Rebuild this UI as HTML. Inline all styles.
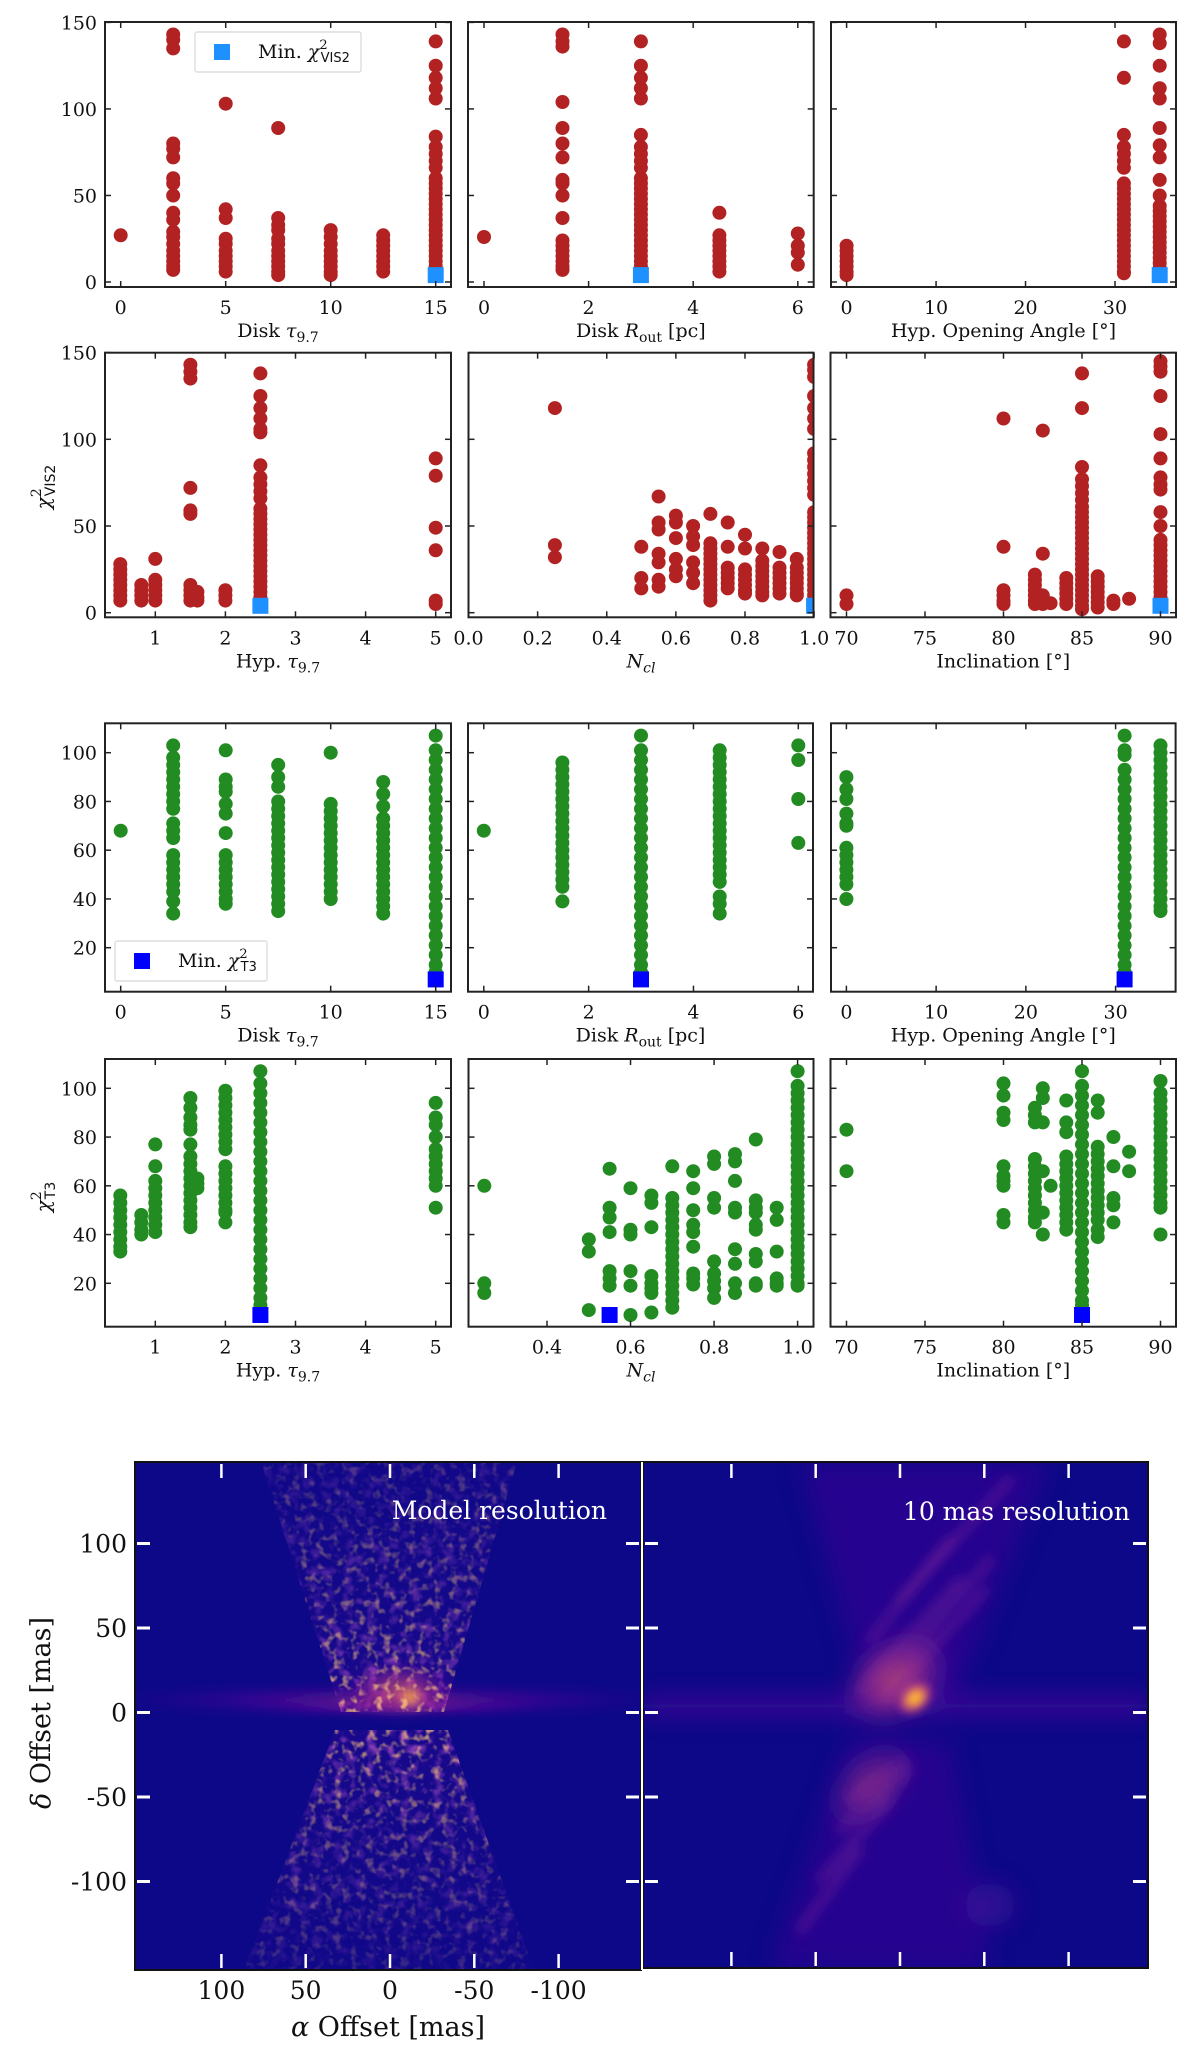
<!DOCTYPE html>
<html><head><meta charset="utf-8"><style>
html,body{margin:0;padding:0;background:#fff;}
svg{display:block;}
text{font-family:"DejaVu Serif","Liberation Serif",serif;fill:#111;}
</style></head><body>
<svg id="fig" width="1200" height="2049" viewBox="0 0 1200 2049" xmlns="http://www.w3.org/2000/svg">
<defs>
  <filter id="speck" filterUnits="userSpaceOnUse" x="135" y="1462" width="506" height="508">
    <feTurbulence type="fractalNoise" baseFrequency="0.09" numOctaves="2" seed="4" result="n"/>
    <feColorMatrix in="n" type="matrix" values="0 0 0 0 0.55  0 0 0 0 0.1  0 0 0 0 0.6  0 0 0 3.0 -1.45"/>
  </filter>
  <filter id="speckB" filterUnits="userSpaceOnUse" x="135" y="1462" width="506" height="508">
    <feTurbulence type="fractalNoise" baseFrequency="0.12" numOctaves="2" seed="9" result="n"/>
    <feColorMatrix in="n" type="matrix" values="0 0 0 0 0.98  0 0 0 0 0.55  0 0 0 0 0.2  0 0 0 4 -2.1"/>
  </filter>
  <filter id="blurBig" filterUnits="userSpaceOnUse" x="560" y="1380" width="680" height="680"><feGaussianBlur stdDeviation="12"/></filter>
  <filter id="blurMid" filterUnits="userSpaceOnUse" x="560" y="1380" width="680" height="680"><feGaussianBlur stdDeviation="6"/></filter>
  <filter id="blurL" filterUnits="userSpaceOnUse" x="60" y="1380" width="660" height="680"><feGaussianBlur stdDeviation="5"/></filter>
  <filter id="blurS" filterUnits="userSpaceOnUse" x="560" y="1380" width="680" height="680"><feGaussianBlur stdDeviation="4"/></filter>
  <linearGradient id="coneUp" x1="0" y1="0" x2="0" y2="1">
    <stop offset="0" stop-color="#fff" stop-opacity="0.25"/>
    <stop offset="0.6" stop-color="#fff" stop-opacity="0.55"/>
    <stop offset="1" stop-color="#fff" stop-opacity="1"/>
  </linearGradient>
  <linearGradient id="coneDn" x1="0" y1="0" x2="0" y2="1">
    <stop offset="0" stop-color="#fff" stop-opacity="0.9"/>
    <stop offset="0.4" stop-color="#fff" stop-opacity="0.5"/>
    <stop offset="1" stop-color="#fff" stop-opacity="0.2"/>
  </linearGradient>
  <mask id="coneMask" maskUnits="userSpaceOnUse" x="135" y="1462" width="506" height="508">
    <polygon points="261,1462 517,1462 444,1712 341,1712" fill="url(#coneUp)"/>
    <polygon points="335,1730 448,1730 534,1970 244,1970" fill="url(#coneDn)"/>
  </mask>
  <radialGradient id="hot" cx="0.5" cy="0.5" r="0.5">
    <stop offset="0" stop-color="#fbd524"/>
    <stop offset="0.35" stop-color="#f89540"/>
    <stop offset="0.7" stop-color="#cc4778" stop-opacity="0.6"/>
    <stop offset="1" stop-color="#7e03a8" stop-opacity="0"/>
  </radialGradient>
  <radialGradient id="glow" cx="0.5" cy="0.5" r="0.5">
    <stop offset="0" stop-color="#e16462" stop-opacity="0.9"/>
    <stop offset="0.6" stop-color="#b12a90" stop-opacity="0.5"/>
    <stop offset="1" stop-color="#6a00a8" stop-opacity="0"/>
  </radialGradient>
  <radialGradient id="midG" cx="0.5" cy="0.5" r="0.5">
    <stop offset="0" stop-color="#cc4778" stop-opacity="0.9"/>
    <stop offset="0.5" stop-color="#7e03a8" stop-opacity="0.6"/>
    <stop offset="1" stop-color="#3a0a98" stop-opacity="0"/>
  </radialGradient>
  <clipPath id="clipL"><rect x="135" y="1462" width="506" height="508"/></clipPath>
  <clipPath id="clipR"><rect x="643" y="1462" width="505" height="506"/></clipPath>
</defs>
<g id="charts"></g>
<g id="images"></g>
</svg>
<script>
// ===== Data =====
const R1P1_X=[0,2.5,5,7.5,10,12.5,15];
const R1P1_Y=[[27],[143,140,135,80,77,72,60,57,50,40,36,29,26,22,18,15,12,9,7],[103,42,37,25,22,18,15,12,9,6],[89,37,33,30,25,22,18,15,12,9,6,4],[30,26,22,18,15,12,9,6,4],[27,24,21,18,15,12,9,6],[139,125,118,112,106,84,78,74,70,66,60,57,54,51,48,45,42,39,36,33,30,27,24,21,18,15,12,9,6]];
const R1P1_MIN=[15,4];
const R1P2_X=[0,1.5,3,4.5,6];
const R1P2_Y=[[26],[143,139,136,104,89,80,72,59,57,50,37,24,21,18,15,12,9,7],[139,125,118,112,106,85,78,74,70,66,60,57,54,51,48,45,42,39,36,33,30,27,24,21,18,15,12,9,6],[40,27,24,21,18,15,12,9,6],[28,21,17,10]];
const R1P2_MIN=[3,4];
const R1P3_X=[0,31,35];
const R1P3_Y=[[21,18,15,12,9,6,4],[139,118,85,78,74,70,66,57,54,51,48,45,42,39,36,33,30,27,24,21,18,15,12,9,6,5],[143,138,125,112,106,89,79,72,59,50,44,41,38,35,32,29,26,23,20,17,14,11,8,5]];
const R1P3_MIN=[35,4];

const R2P1_X=[0.5,0.8,1,1.5,1.6,2,2.5,5];
const R2P1_Y=[[28,25,22,19,16,13,10,7],[16,13,10,7],[31,19,16,13,10,7],[143,139,135,72,59,57,16,13,10,7],[12,9,7],[13,10,7],[138,125,118,112,106,104,85,78,74,70,66,60,57,54,51,48,45,42,39,36,33,30,27,24,21,18,15,12,9],[89,79,49,36,7,5]];
const R2P1_MIN=[2.5,4];
const R2P2_X=[0.25,0.5,0.55,0.6,0.65,0.7,0.75,0.8,0.85,0.9,0.95,1.0];
const R2P2_Y=[[118,39,32],[38,20,14],[67,52,48,34,29,19,15],[56,52,43,31,25,21],[50,44,39,29,23,17],[57,40,37,34,31,28,25,22,19,16,13,10,7],[52,38,26,23,20,17,14],[45,37,25,22,19,16,13,11],[37,30,27,24,21,18,15,12,10],[35,26,23,20,17,14,11],[31,26,23,20,17,14,11,10],[143,140,136,125,118,112,106,92,88,84,80,76,72,68,58,55,52,49,46,43,40,37,34,31,28,25,22,19,16,13,10,7,5]];
const R2P2_MIN=[1.0,4];
const R2P3_X=[70,80,82,82.5,83,84,85,86,87,88,90];
const R2P3_Y=[[10,5],[112,38,13,10,7,5],[22,19,16,13,10,7,5],[105,34,10,7,5],[5.5],[20,17,14,11,8,5],[138,118,84,77,73,69,65,61,58,55,52,49,46,43,40,37,34,31,28,25,22,19,16,13,10,7,4,2],[21,18,15,12,9,6,3],[7,5],[8],[145,142,139,125,103,89,78,74,71,58,50,42,39,36,33,30,27,24,21,18,15,12,9,6]];
const R2P3_MIN=[90,4];

const R3P1_X=[0,2.5,5,7.5,10,12.5,15];
const R3P1_Y=[[68],[103,98,95,92,89,86,83,80,77,71,68,65,58,55,52,49,46,43,39,34],[101,89,86,84,79,75,67,58,55,52,49,46,43,40,38],[95,90,86,80,77,74,71,68,65,62,59,56,53,50,47,44,41,38,35],[100,79,76,73,70,67,64,61,58,55,52,49,46,43,40],[88,83,78,73,70,67,64,61,58,55,52,49,46,43,40,37,34],[107,101,97,93,89,85,81,77,73,69,65,61,57,53,49,45,41,37,33,29,25,21,17,13,10]];
const R3P1_MIN=[15,7];
const R3P2_X=[0,1.5,3,4.5,6];
const R3P2_Y=[[68],[96,93,90,87,84,81,78,75,72,69,66,63,60,57,54,51,48,45,39],[107,101,97,93,89,85,81,77,73,69,65,61,57,53,49,45,41,37,33,29,25,21,17,13,10],[101,98,95,92,89,86,83,80,77,74,71,68,65,62,59,56,53,50,47,41,38,34],[103,97,81,63]];
const R3P2_MIN=[3,7];
const R3P3_X=[0,31,35];
const R3P3_Y=[[90,85,81,75,71,70,61,58,55,52,49,46,40],[107,101,99,93,89,85,81,77,73,69,65,61,57,53,49,45,41,37,33,29,25,21,17,13,10],[103,100,97,94,91,88,85,82,79,76,73,70,67,64,61,58,55,52,49,46,43,40,37,35]];
const R3P3_MIN=[31,7];

const R4P1_X=[0.5,0.8,1,1.5,1.6,2,2.5,5];
const R4P1_Y=[[56,53,50,47,44,41,38,35,33],[48,45,42,40],[77,68,62,59,56,53,50,47,44,41],[96,92,88,85,83,77,72,69,66,63,60,57,54,51,48,45,43],[63,61,59],[99,96,93,90,87,84,81,78,75,68,65,62,59,56,53,50,49,45],[107,102,98,94,90,86,82,78,74,70,66,62,58,54,50,46,42,38,34,30,26,22,18,14,11],[94,88,85,80,75,72,69,66,63,60,51]];
const R4P1_MIN=[2.5,7];
const R4P2_X=[0.25,0.5,0.55,0.6,0.65,0.7,0.75,0.8,0.85,0.9,0.95,1.0];
const R4P2_Y=[[60,20,16],[38,33,9],[67,51,47,41,25,22,19],[59,42,40,25,19,7],[56,53,43,23,20,18,16,8],[68,55,52,49,46,43,40,37,34,31,28,25,22,19,16,13,10],[66,59,50,44,41,35,24,22,19.5],[72,69,55,51,29,24,21,18,14],[73,70,62,51,49,34,28,20,16],[79,54,51,49,44,42,32,29,20,19],[51,46,33,22,20,19],[107,101,98,95,92,89,86,83,80,77,74,71,68,65,62,59,56,53,50,47,44,41,38,35,32,29,26,23,20,19]];
const R4P2_MIN=[0.55,7];
const R4P3_X=[70,80,82,82.5,83,84,85,86,87,88,90];
const R4P3_Y=[[83,66],[102,97,90,87,68,64,62,60,48,45],[92,89,86,71,68,65,62,59,56,53,50,47,45],[100,96,86,66,49,40],[60],[95,86,82,72,69,66,63,60,57,54,51,48,45,42],[107,101,97,93,89,85,81,77,73,69,65,61,57,53,49,45,41,37,33,29,25,21,17,13,11,8],[95,90,76,73,70,67,64,61,58,55,52,49,46,42,39],[80,68,55,52,45],[74,66],[103,98,95,92,89,86,83,80,77,74,71,68,65,62,59,56,53,51,40]];
const R4P3_MIN=[85,7];

const TICKS_R1Y=[0,50,100,150];
const TICKS_R3Y=[20,40,60,80,100];
const TICKS_TAU=[0,5,10,15], TICKS_ROUT=[0,2,4,6], TICKS_ANG=[0,10,20,30];
const TICKS_HTAU=[1,2,3,4,5], TICKS_INC=[70,75,80,85,90];
const TICKS_NCL=[0,0.2,0.4,0.6,0.8,1.0], TICKS_NCL4=[0.4,0.6,0.8,1.0];
const IMG_TICKS=[100,50,0,-50,-100];

// ===== Drawing =====
const NS="http://www.w3.org/2000/svg";
const root=document.getElementById('charts');
function el(tag,attrs,parent){const e=document.createElementNS(NS,tag);for(const k in attrs)e.setAttribute(k,attrs[k]);(parent||root).appendChild(e);return e;}
let clipId=0;
function lin(d0,p0,d1,p1){return v=>p0+(v-d0)*(p1-p0)/(d1-d0);}

function panel(o){
  const g=el('g',{});
  
  
  const sx=lin(o.xa[0],o.xa[1],o.xb[0],o.xb[1]);
  const sy=lin(o.ya[0],o.ya[1],o.yb[0],o.yb[1]);
  const cid='cp'+(clipId++);
  const cp=el('clipPath',{id:cid},g);
  el('rect',{x:o.L,y:o.T,width:o.R-o.L,height:o.B-o.T},cp);
  const pts=el('g',{'clip-path':'url(#'+cid+')'},g);
  
  
  o.cats.forEach((c,i)=>{
    o.vals[i].forEach(v=>{
      const d=el('circle',{cx:sx(c).toFixed(1),cy:sy(v).toFixed(1),r:7,fill:o.color},pts);
      
      
    });
  });
  const m=el('rect',{x:(sx(o.min[0])-8).toFixed(1),y:(sy(o.min[1])-8).toFixed(1),width:16,height:16,fill:o.minColor},pts);
  
  
  const f=el('rect',{x:o.L,y:o.T,width:o.R-o.L,height:o.B-o.T,fill:'none',stroke:'#222','stroke-width':2},g);
  
  
  o.xt.forEach(t=>{
    const x=sx(t);
    el('line',{x1:x,y1:o.B,x2:x,y2:o.B-6,stroke:'#222','stroke-width':1.5},g);
    el('line',{x1:x,y1:o.T,x2:x,y2:o.T+6,stroke:'#222','stroke-width':1.5},g);
    const tx=el('text',{x:x,y:o.B+27,'text-anchor':'middle','font-size':19},g);
    tx.textContent=o.xfmt?o.xfmt(t):String(t);
    
    
  });
  o.yt.forEach(t=>{
    const y=sy(t);
    el('line',{x1:o.L,y1:y,x2:o.L+6,y2:y,stroke:'#222','stroke-width':1.5},g);
    el('line',{x1:o.R,y1:y,x2:o.R-6,y2:y,stroke:'#222','stroke-width':1.5},g);
    if(o.ylabels){
      const ty=el('text',{x:o.L-8,y:y+7,'text-anchor':'end','font-size':19},g);
      ty.textContent=String(t);
      
      
    }
  });
  const xl=el('text',{x:(o.L+o.R)/2,y:o.B+50,'text-anchor':'middle','font-size':19},g);
  xl.innerHTML=o.xlabel;
  
  
  return g;
}
const fmt1=v=>v.toFixed(1);
const L_TAU='Disk <tspan font-style="italic">τ</tspan><tspan font-size="14" dy="5">9.7</tspan>';
const L_HTAU='Hyp. <tspan font-style="italic">τ</tspan><tspan font-size="14" dy="5">9.7</tspan>';
const L_ROUT='Disk <tspan font-style="italic">R</tspan><tspan font-size="14" dy="5">out</tspan><tspan dy="-5"> [pc]</tspan>';
const L_ANG='Hyp. Opening Angle [°]';
const L_NCL='<tspan font-style="italic">N</tspan><tspan font-size="14" dy="5" font-style="italic">cl</tspan>';
const L_INC='Inclination [°]';

const RED='#b22222', GRN='#228b22';
const r1={T:22,B:287,ya:[0,282],yb:[150,22.4]};
panel(Object.assign({name:'vis2-disk-tau-panel',L:105,R:451,xa:[0,120.7],xb:[15,435.7],cats:R1P1_X,vals:R1P1_Y,min:R1P1_MIN,color:RED,minColor:'#1e90ff',xt:TICKS_TAU,yt:TICKS_R1Y,ylabels:true,xlabel:L_TAU},r1));
panel(Object.assign({name:'vis2-disk-rout-panel',L:468,R:813.7,xa:[0,484],xb:[6,797.8],cats:R1P2_X,vals:R1P2_Y,min:R1P2_MIN,color:RED,minColor:'#1e90ff',xt:TICKS_ROUT,yt:TICKS_R1Y,xlabel:L_ROUT},r1));
panel(Object.assign({name:'vis2-opening-angle-panel',L:831,R:1176,xa:[0,846.6],xb:[30,1115],cats:R1P3_X,vals:R1P3_Y,min:R1P3_MIN,color:RED,minColor:'#1e90ff',xt:TICKS_ANG,yt:TICKS_R1Y,xlabel:L_ANG},r1));
const r2={T:352.7,B:617.3,ya:[0,612.7],yb:[100,439.3]};
panel(Object.assign({name:'vis2-hyp-tau-panel',L:105,R:451,xa:[1,155.3],xb:[5,435.7],cats:R2P1_X,vals:R2P1_Y,min:R2P1_MIN,color:RED,minColor:'#1e90ff',xt:TICKS_HTAU,yt:TICKS_R1Y,ylabels:true,xlabel:L_HTAU},r2));
panel(Object.assign({name:'vis2-ncl-panel',L:468.5,R:813.5,xa:[0,468.5],xb:[1,814.1],cats:R2P2_X,vals:R2P2_Y,min:R2P2_MIN,color:RED,minColor:'#1e90ff',xt:TICKS_NCL,xfmt:fmt1,yt:TICKS_R1Y,xlabel:L_NCL},r2));
panel(Object.assign({name:'vis2-inclination-panel',L:830.5,R:1176,xa:[70,846.5],xb:[90,1160.5],cats:R2P3_X,vals:R2P3_Y,min:R2P3_MIN,color:RED,minColor:'#1e90ff',xt:TICKS_INC,yt:TICKS_R1Y,xlabel:L_INC},r2));
const r3={T:723.3,B:991.7,ya:[20,947.7],yb:[100,752.7]};
panel(Object.assign({name:'t3-disk-tau-panel',L:105,R:451,xa:[0,120.7],xb:[15,435.7],cats:R3P1_X,vals:R3P1_Y,min:R3P1_MIN,color:GRN,minColor:'#0000ff',xt:TICKS_TAU,yt:TICKS_R3Y,ylabels:true,xlabel:L_TAU},r3));
panel(Object.assign({name:'t3-disk-rout-panel',L:468,R:813,xa:[0,483.8],xb:[6,798.3],cats:R3P2_X,vals:R3P2_Y,min:R3P2_MIN,color:GRN,minColor:'#0000ff',xt:TICKS_ROUT,yt:TICKS_R3Y,xlabel:L_ROUT},r3));
panel(Object.assign({name:'t3-opening-angle-panel',L:831,R:1175.6,xa:[0,846.4],xb:[30,1115.6],cats:R3P3_X,vals:R3P3_Y,min:R3P3_MIN,color:GRN,minColor:'#0000ff',xt:TICKS_ANG,yt:TICKS_R3Y,xlabel:L_ANG},r3));
const r4={T:1059,B:1326.7,ya:[20,1283.3],yb:[100,1088.3]};
panel(Object.assign({name:'t3-hyp-tau-panel',L:105,R:451,xa:[1,155.3],xb:[5,435.7],cats:R4P1_X,vals:R4P1_Y,min:R4P1_MIN,color:GRN,minColor:'#0000ff',xt:TICKS_HTAU,yt:TICKS_R3Y,ylabels:true,xlabel:L_HTAU},r4));
panel(Object.assign({name:'t3-ncl-panel',L:468.5,R:813.5,xa:[0.4,547],xb:[1,797.6],cats:R4P2_X,vals:R4P2_Y,min:R4P2_MIN,color:GRN,minColor:'#0000ff',xt:TICKS_NCL4,xfmt:fmt1,yt:TICKS_R3Y,xlabel:L_NCL},r4));
panel(Object.assign({name:'t3-inclination-panel',L:830.5,R:1176,xa:[70,846.5],xb:[90,1160.5],cats:R4P3_X,vals:R4P3_Y,min:R4P3_MIN,color:GRN,minColor:'#0000ff',xt:TICKS_INC,yt:TICKS_R3Y,xlabel:L_INC},r4));

function ytitle(y,sub,name){
  const t=el('text',{x:0,y:0,'text-anchor':'middle','font-size':20,transform:'translate(50,'+y+') rotate(-90)'});
  t.innerHTML='<tspan font-style="italic">χ</tspan><tspan font-size="14" dy="-9">2</tspan><tspan font-size="14" dy="14" dx="-8" font-family="DejaVu Sans">'+sub+'</tspan>';
  
  
}
ytitle(487,'VIS2','y-axis-title-vis2');
ytitle(1197,'T3','y-axis-title-t3');

function legend(x,y,w,h,color,sub,name){
  const g=el('g',{});
  
  
  el('rect',{x:x,y:y,width:w,height:h,fill:'#fff',stroke:'#d8d8d8','stroke-width':1.2,rx:2},g);
  el('rect',{x:x+19,y:y+h/2-8,width:16,height:16,fill:color},g);
  const t=el('text',{x:x+63,y:y+h/2+6,'font-size':19},g);
  t.innerHTML='Min. <tspan font-style="italic">χ</tspan><tspan font-size="13" dy="-9">2</tspan><tspan font-size="13" dy="13" dx="-7" font-family="DejaVu Sans">'+sub+'</tspan>';
}
legend(195,32,166,40,'#1e90ff','VIS2','legend-min-vis2');
legend(115,941,152,40,'#0000ff','T3','legend-min-t3');

// ===== Images =====
const IMG=document.getElementById('images');
function mk(tag,attrs,parent){const e=document.createElementNS(NS,tag);for(const k in attrs)e.setAttribute(k,attrs[k]);parent.appendChild(e);return e;}
const L=mk('g',{'clip-path':'url(#clipL)'},IMG);


mk('rect',{x:135,y:1462,width:506,height:508,fill:'#0d0887'},L);
const cone=mk('g',{mask:'url(#coneMask)'},L);
mk('rect',{x:135,y:1462,width:506,height:508,fill:'#2a0a94',opacity:0.5},cone);
mk('rect',{x:135,y:1462,width:506,height:508,filter:'url(#speck)',opacity:0.75},cone);
const mid=mk('g',{filter:'url(#blurL)'},L);
mk('ellipse',{cx:390,cy:1700,rx:300,ry:16,fill:'url(#midG)',opacity:0.55},mid);
mk('ellipse',{cx:395,cy:1708,rx:170,ry:5,fill:'url(#midG)',opacity:0.9},mid);
mk('ellipse',{cx:400,cy:1690,rx:55,ry:28,fill:'url(#glow)',opacity:0.8},mid);
mk('ellipse',{cx:410,cy:1697,rx:14,ry:12,fill:'url(#hot)'},mid);
const hotMask=mk('g',{mask:'url(#coneMask)'},L);
mk('rect',{x:340,y:1665,width:105,height:47,filter:'url(#speckB)',opacity:0.8},hotMask);

const R=mk('g',{'clip-path':'url(#clipR)'},IMG);


mk('rect',{x:643,y:1462,width:505,height:506,fill:'#0d0887'},R);
const gl=mk('g',{filter:'url(#blurBig)'},R);
mk('polygon',{points:'800,1462 1050,1462 955,1700 865,1700',fill:'#3c0b98',opacity:0.55},gl);
mk('polygon',{points:'850,1740 950,1740 990,1968 770,1968',fill:'#3c0b98',opacity:0.55},gl);
mk('rect',{x:643,y:1698,width:505,height:16,fill:'#5c0fa0',opacity:0.7},gl);
mk('ellipse',{cx:990,cy:1905,rx:25,ry:22,fill:'#4a0c9c',opacity:0.6},gl);
mk('ellipse',{cx:895,cy:1680,rx:60,ry:40,fill:'url(#glow)',transform:'rotate(-35 895 1680)'},gl);
mk('ellipse',{cx:870,cy:1785,rx:55,ry:30,fill:'url(#glow)',opacity:0.6,transform:'rotate(-45 870 1785)'},gl);
const gs=mk('g',{filter:'url(#blurMid)'},R);
const STREAKS=[[860,1690,960,1580],[885,1700,985,1590],[905,1660,990,1560],[870,1640,950,1540],[900,1600,1010,1480],[850,1800,905,1760],[840,1830,910,1770],[820,1880,890,1800],[800,1930,860,1850]];
STREAKS.forEach(s=>{mk('line',{x1:s[0],y1:s[1],x2:s[2],y2:s[3],stroke:'#9c2a9c','stroke-width':7,opacity:0.45,'stroke-linecap':'round'},gs);});
const hs=mk('g',{filter:'url(#blurS)'},R);
mk('ellipse',{cx:915,cy:1698,rx:22,ry:16,fill:'url(#hot)',transform:'rotate(-40 915 1698)'},hs);

function imgTicks(g,L0,R0,T0,B0,cx,labels){
  const sx=lin(0,cx,100,cx-168.6), sy=lin(0,1712.5,100,1543.5);
  IMG_TICKS.forEach(t=>{
    const x=sx(t),y=sy(t);
    mk('line',{x1:x,y1:T0+2,x2:x,y2:T0+16,stroke:'#fff','stroke-width':2.5},g);
    mk('line',{x1:x,y1:B0-2,x2:x,y2:B0-16,stroke:'#fff','stroke-width':2.5},g);
    mk('line',{x1:L0+2,y1:y,x2:L0+15,y2:y,stroke:'#fff','stroke-width':3},g);
    mk('line',{x1:R0-2,y1:y,x2:R0-15,y2:y,stroke:'#fff','stroke-width':3},g);
    if(labels){
      const a=mk('text',{x:x,y:1999,'text-anchor':'middle','font-size':25},g);a.textContent=String(t);
      
      
      const b=mk('text',{x:L0-8,y:y+9,'text-anchor':'end','font-size':25},g);b.textContent=String(t);
      
      
    }
  });
  mk('rect',{x:L0,y:T0,width:R0-L0,height:B0-T0,fill:'none',stroke:'#111','stroke-width':2},g);
}
imgTicks(IMG,135,641,1462,1970,390,true);
imgTicks(IMG,643,1148,1462,1968,900,false);
mk('line',{x1:642,y1:1462,x2:642,y2:1970,stroke:'#fff','stroke-width':2},IMG);
const t1=mk('text',{x:607,y:1519,'text-anchor':'end','font-size':25,style:'fill:#fff'},IMG);t1.textContent='Model resolution';


const t2=mk('text',{x:1130,y:1520,'text-anchor':'end','font-size':25,style:'fill:#fff'},IMG);t2.textContent='10 mas resolution';


const ax=mk('text',{x:388,y:2036,'text-anchor':'middle','font-size':27},IMG);ax.innerHTML='<tspan font-style="italic">α</tspan> Offset [mas]';


const ay=mk('text',{x:0,y:0,'text-anchor':'middle','font-size':27,transform:'translate(50,1713) rotate(-90)'},IMG);ay.innerHTML='<tspan font-style="italic">δ</tspan> Offset [mas]';


</script>
</body></html>
